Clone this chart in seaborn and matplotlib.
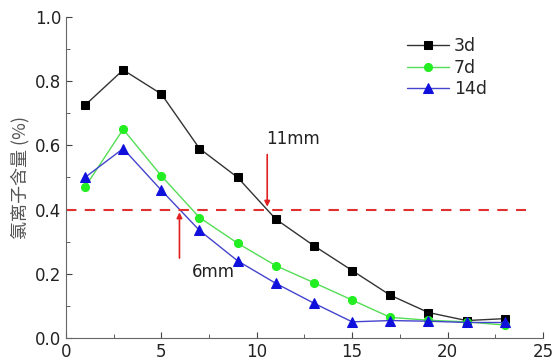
import matplotlib
matplotlib.use("Agg")
import matplotlib.pyplot as plt
import seaborn as sns
import pandas as pd
from matplotlib.ticker import MultipleLocator

depth = [1, 3, 5, 7, 9, 11, 13, 15, 17, 19, 21, 23]
d3 = [0.725, 0.835, 0.76, 0.59, 0.50, 0.37, 0.287, 0.21, 0.133, 0.079, 0.054, 0.06]
d7 = [0.47, 0.65, 0.505, 0.375, 0.295, 0.225, 0.172, 0.118, 0.064, 0.055, 0.05, 0.04]
d14 = [0.50, 0.59, 0.46, 0.335, 0.24, 0.17, 0.108, 0.05, 0.054, 0.052, 0.048, 0.048]
series_names = ["3d", "7d", "14d"]
threshold = 0.4

sns.set_style("ticks")
plt.rcParams['font.family'] = ['DejaVu Sans', 'Noto Sans CJK SC']

df = pd.DataFrame({
    "depth": depth * 3,
    "value": d3 + d7 + d14,
    "series": [series_names[0]] * len(depth) + [series_names[1]] * len(depth) + [series_names[2]] * len(depth),
})

fig = plt.figure(figsize=(5.54, 3.61), dpi=100)
ax = fig.add_axes([0.119, 0.064, 0.861, 0.889])

styles = {"3d": ("black", "s", 5.5), "7d": ("#22ee22", "o", 5.8), "14d": ("#1010dd", "^", 6.5)}
line_colors = {"3d": "#333333", "7d": "#55dd55", "14d": "#4444cc"}
for name in series_names:
    sub = df[df["series"] == name]
    c, m, ms = styles[name]
    sns.lineplot(data=sub, x="depth", y="value", ax=ax, color=line_colors[name], lw=1,
                 marker=m, markersize=ms, markerfacecolor=c, markeredgecolor=c, label=name)

ax.plot([0, 24.1], [threshold, threshold], color="#e03030", lw=1.5, dashes=(5, 4))

ax.annotate("", xy=(10.55, threshold), xytext=(10.55, 0.58),
            arrowprops=dict(arrowstyle="-|>", color="#e02020", lw=1.2, mutation_scale=8))
ax.annotate("", xy=(5.95, threshold), xytext=(5.95, 0.24),
            arrowprops=dict(arrowstyle="-|>", color="#e02020", lw=1.2, mutation_scale=8))
ax.text(10.5, 0.62, "11mm", fontsize=12, ha="left", va="center", color="#222222")
ax.text(6.6, 0.205, "6mm", fontsize=12, ha="left", va="center", color="#222222")

ax.set_xlim(0, 25)
ax.set_ylim(0, 1.0)
ax.xaxis.set_major_locator(MultipleLocator(5))
ax.xaxis.set_minor_locator(MultipleLocator(2.5))
ax.yaxis.set_major_locator(MultipleLocator(0.2))
ax.yaxis.set_minor_locator(MultipleLocator(0.1))
ax.tick_params(axis="both", which="both", direction="in", labelsize=12, colors="#444444", labelcolor="#222222")
ax.tick_params(which="major", length=4)
ax.tick_params(which="minor", length=3)
ax.set_xlabel("")
ax.set_ylabel("氯离子含量 (%)", fontsize=13, color="#555555", family=['Noto Sans CJK SC', 'DejaVu Sans'], labelpad=4)
for s in ["top", "right"]:
    ax.spines[s].set_visible(False)
for s in ["left", "bottom"]:
    ax.spines[s].set_color("#666666")

leg = ax.legend(loc="upper right", bbox_to_anchor=(0.915, 0.985), frameon=False, fontsize=12.5,
                handlelength=2.4, handletextpad=0.3, labelspacing=0.2)

fig.savefig("out.png", dpi=100)
